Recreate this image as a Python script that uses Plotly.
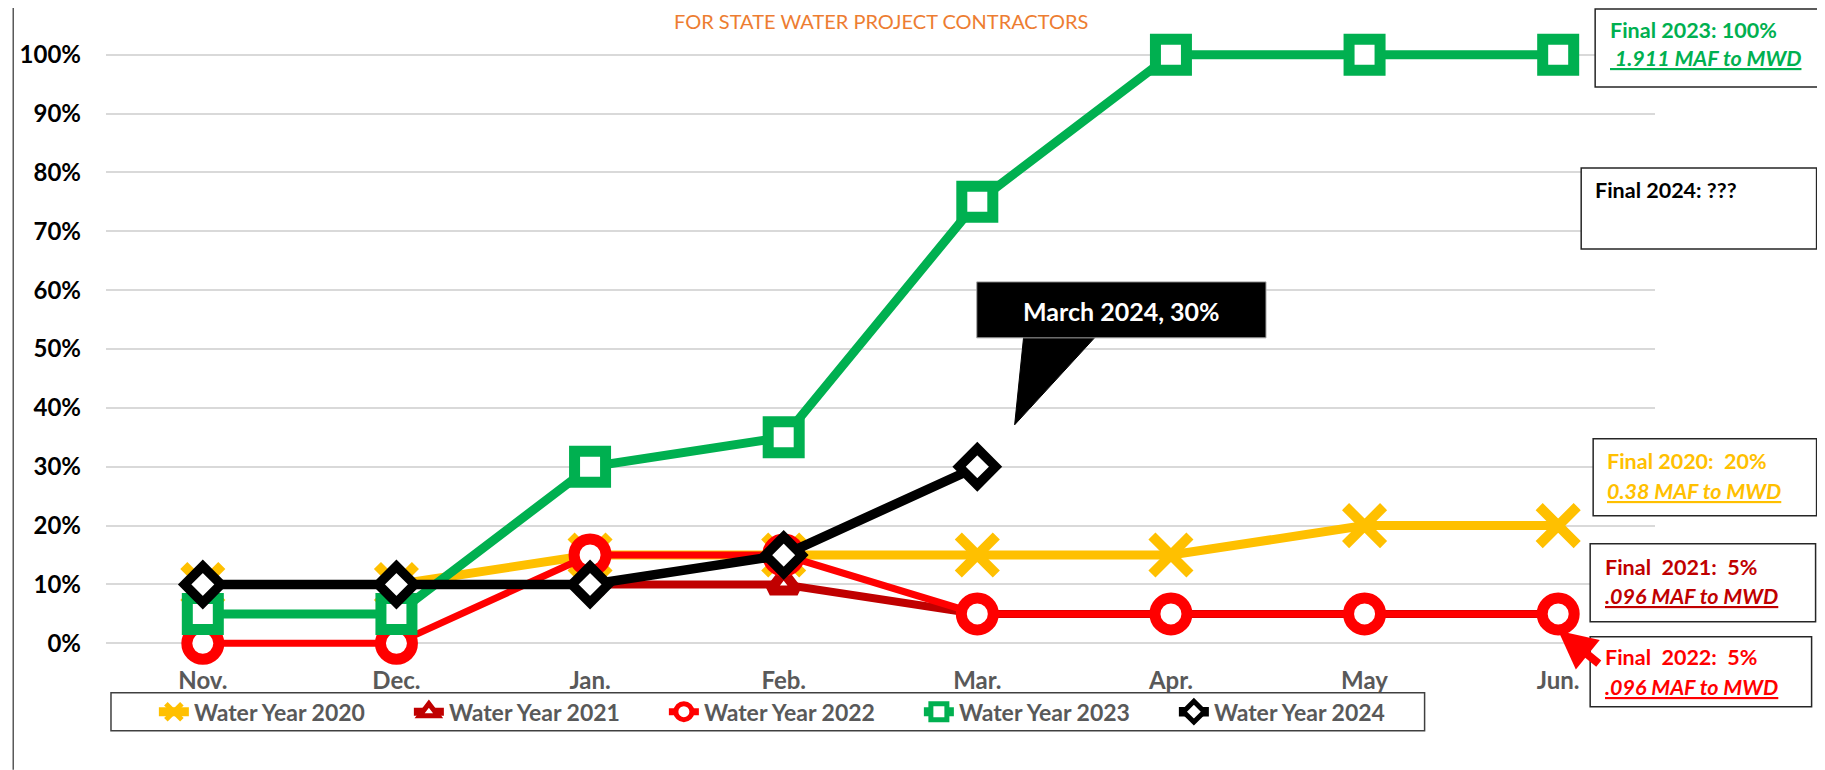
import plotly.graph_objects as go

# ---------------- data ----------------
months = ["Nov.", "Dec.", "Jan.", "Feb.", "Mar.", "Apr.", "May", "Jun."]
wy2020 = [0.10, 0.10, 0.15, 0.15, 0.15, 0.15, 0.20, 0.20]
wy2021 = [0.10, 0.10, 0.10, 0.10, 0.05, 0.05, 0.05, 0.05]
wy2022 = [0.00, 0.00, 0.15, 0.15, 0.05, 0.05, 0.05, 0.05]
wy2023 = [0.05, 0.05, 0.30, 0.35, 0.75, 1.00, 1.00, 1.00]
wy2024 = [0.10, 0.10, 0.10, 0.15, 0.30]
series_names = ["Water Year 2020", "Water Year 2021", "Water Year 2022",
                "Water Year 2023", "Water Year 2024"]
y_ticks = [0, 0.1, 0.2, 0.3, 0.4, 0.5, 0.6, 0.7, 0.8, 0.9, 1.0]

# ---------------- geometry (page pixel coords) ----------------
PAGE_W, PAGE_H = 1825, 770
OFF = 8  # default body margin of the html page
W, H = PAGE_W - OFF, PAGE_H - OFF
L, R = 102, 1655
Y0, Y1 = -0.03, 1.03
PX_PER_UNIT = 588.9
T = 54.7 - (Y1 - 1.0) * PX_PER_UNIT
B = 643.6 - (Y0 - 0.0) * PX_PER_UNIT


def px(xp):
    return (xp - L) / (R - L)


def py(yp):
    return (B - yp) / (B - T)


FONT = "Lato"

fig = go.Figure()

styles = [
    dict(color="#FFC000", lw=9, symbol="x-thin", size=38, mlw=10, fill="#FFC000"),
    dict(color="#C00000", lw=8, symbol="triangle-up", size=24, mlw=10, fill="white"),
    dict(color="#FF0000", lw=7, symbol="circle", size=32, mlw=11, fill="white"),
    dict(color="#00B050", lw=9, symbol="square", size=31, mlw=11, fill="white"),
    dict(color="#000000", lw=9.5, symbol="diamond", size=28, mlw=9.5, fill="white"),
]
all_series = [wy2020, wy2021, wy2022, wy2023, wy2024]

for name, vals, st in zip(series_names, all_series, styles):
    fig.add_trace(go.Scatter(
        x=months[:len(vals)], y=vals, name=name, mode="lines+markers",
        line=dict(color=st["color"], width=st["lw"]),
        marker=dict(symbol=st["symbol"], size=st["size"], color=st["fill"],
                    line=dict(color=st["color"], width=st["mlw"])),
        cliponaxis=False,
    ))

shapes = []
annotations = []

# outer chart border (left/right)
for xb in (9, 1821):
    shapes.append(dict(type="line", xref="paper", yref="paper",
                       x0=px(xb), x1=px(xb), y0=py(OFF), y1=py(PAGE_H),
                       line=dict(color="#595959", width=1.5)))

# legend frame
shapes.append(dict(type="rect", xref="paper", yref="paper",
                   x0=px(107), x1=px(1424), y0=py(731), y1=py(693),
                   line=dict(color="#404040", width=1.5), fillcolor="rgba(0,0,0,0)"))

# title
annotations.append(dict(text="FOR STATE WATER PROJECT CONTRACTORS", xref="paper", yref="paper",
                        x=px(879), y=py(21), xanchor="center", yanchor="middle",
                        showarrow=False, font=dict(family=FONT, size=20, color="#ED7D31")))

# final boxes
boxes = [
    (1595, 1820, 9, 87),
    (1581, 1817, 168, 249),
    (1593, 1817, 439, 516),
    (1590, 1816, 544, 622),
    (1590, 1812, 637, 707),
]
for x0, x1, y0, y1 in boxes:
    shapes.append(dict(type="rect", xref="paper", yref="paper",
                       x0=px(x0), x1=px(x1), y0=py(y1), y1=py(y0),
                       line=dict(color="#262626", width=1.5), fillcolor="white"))

box_texts = [
    ("<b>Final 2023: 100%</b>", 1608, 30, "#00B050"),
    ("<b><i><u> 1.911 MAF to MWD</u></i></b>", 1608, 58, "#00B050"),
    ("<b>Final 2024: ???</b>", 1593, 190, "#000000"),
    ("<b>Final 2020:  20%</b>", 1605, 461, "#FFC000"),
    ("<b><i><u>0.38 MAF to MWD</u></i></b>", 1605, 491, "#FFC000"),
    ("<b>Final  2021:  5%</b>", 1603, 567, "#C00000"),
    ("<b><i><u>.096 MAF to MWD</u></i></b>", 1603, 596, "#C00000"),
    ("<b>Final  2022:  5%</b>", 1603, 657, "#FF0000"),
    ("<b><i><u>.096 MAF to MWD</u></i></b>", 1603, 687, "#FF0000"),
]
for txt, xx, yy, col in box_texts:
    annotations.append(dict(text=txt, xref="paper", yref="paper", x=px(xx), y=py(yy),
                            xanchor="left", yanchor="middle", showarrow=False,
                            font=dict(family=FONT, size=21.5, color=col)))

# red arrow to Jun. point
annotations.append(dict(text="", xref="paper", yref="paper", x=px(1558), y=py(631),
                        ax=42, ay=34, showarrow=True, arrowhead=2, arrowsize=0.95,
                        arrowwidth=8, arrowcolor="#FF0000", standoff=0, startstandoff=0))

# March 2024 callout
shapes.append(dict(type="path", xref="paper", yref="paper",
                   path=f"M {px(1022)} {py(337)} L {px(1094)} {py(337)} L {px(1013)} {py(425)} Z",
                   fillcolor="black", line=dict(color="black", width=1)))
shapes.append(dict(type="rect", xref="paper", yref="paper",
                   x0=px(975), x1=px(1265), y0=py(338), y1=py(282),
                   fillcolor="black", line=dict(color="#A6A6A6", width=1)))
annotations.append(dict(text="<b>March 2024, 30%</b>", xref="paper", yref="paper",
                        x=px(1120), y=py(311), xanchor="center", yanchor="middle",
                        showarrow=False, font=dict(family=FONT, size=25, color="white")))

fig.update_layout(
    width=W, height=H,
    margin=dict(l=L - OFF, r=PAGE_W - R, t=T - OFF, b=PAGE_H - B, pad=0),
    paper_bgcolor="white", plot_bgcolor="white",
    showlegend=True,
    legend=dict(orientation="h", x=px(150), xanchor="left", y=py(712), yanchor="middle",
                bgcolor="rgba(0,0,0,0)", borderwidth=0,
                entrywidth=210, entrywidthmode="pixels",
                font=dict(family=FONT, size=23, color="#595959", weight="bold")),
    xaxis=dict(type="category", range=[-0.5, 7.5], showgrid=False, zeroline=False,
               showline=False, ticks="", ticklabelstandoff=3,
               tickfont=dict(family=FONT, size=24, color="#595959", weight="bold")),
    yaxis=dict(range=[Y0, Y1], tickvals=y_ticks, tickformat=".0%",
               showgrid=True, gridcolor="#D9D9D9", gridwidth=1.5,
               zeroline=False, showline=False, ticks="", ticklabelstandoff=24,
               tickfont=dict(family=FONT, size=24, color="#000000", weight="bold")),
    shapes=shapes, annotations=annotations,
)

fig.write_html("out.html")
